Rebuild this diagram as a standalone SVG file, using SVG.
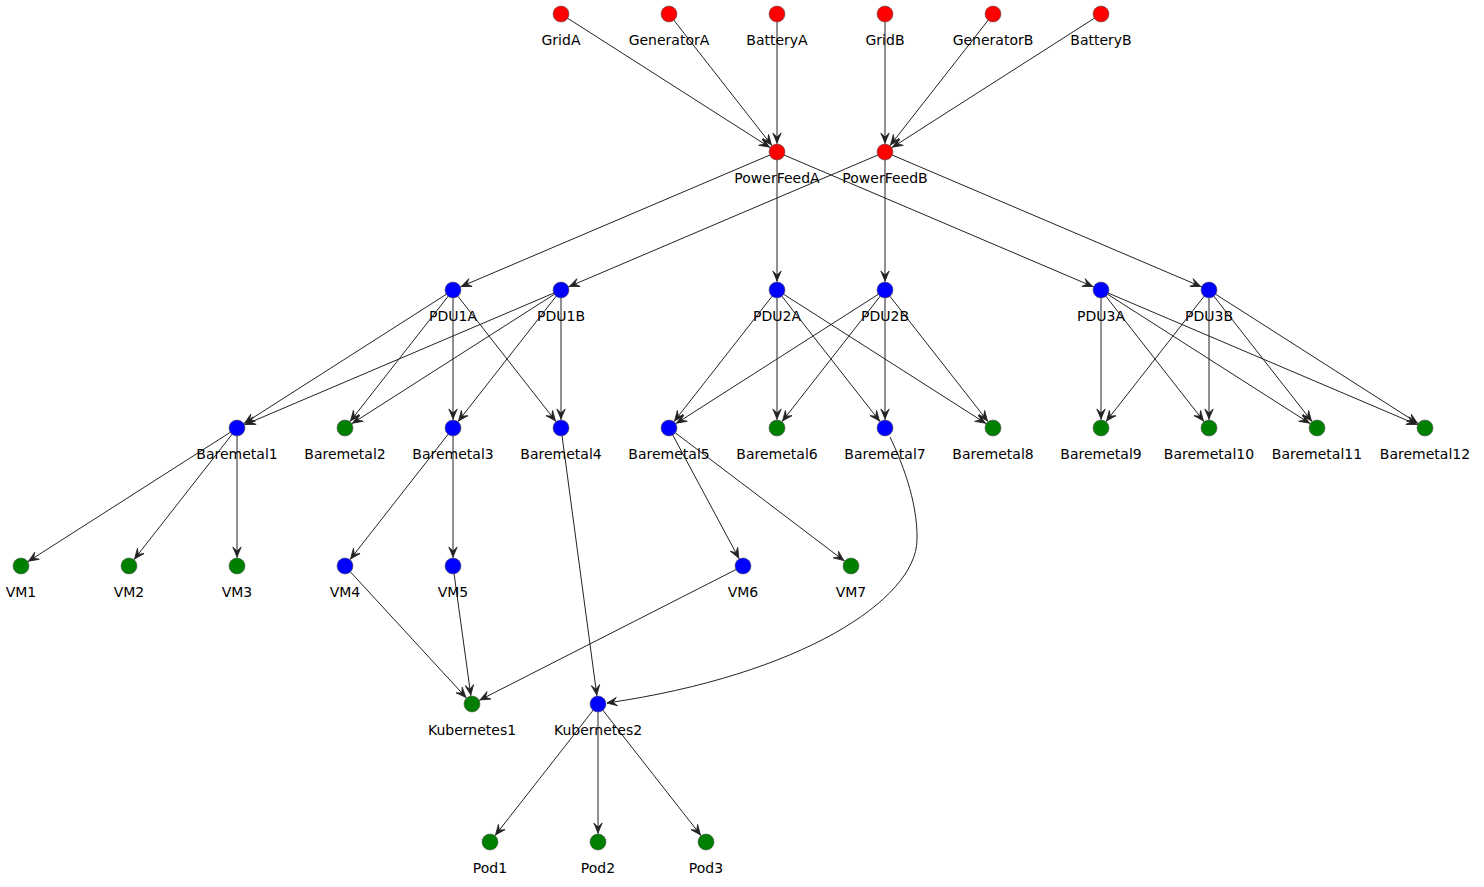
<svg xmlns="http://www.w3.org/2000/svg" width="1484" height="887" viewBox="0 0 1484 887">
<style>
.e{stroke:#222;stroke-width:1;fill:none;marker-end:url(#a)}
.c{stroke:#222;stroke-width:1;fill:none;marker-end:url(#b)}
.n circle{stroke:#555;stroke-width:0.6}
.r circle{fill:#ff0000}
.u circle{fill:#0000ff}
.g circle{fill:#008000}
text{font-family:"DejaVu Sans","Liberation Sans",sans-serif;font-size:14px;fill:#000;text-anchor:middle}
</style>
<defs>
<marker id="a" markerUnits="userSpaceOnUse" viewBox="0 0 12 10" markerWidth="12" markerHeight="10" refX="19" refY="5" orient="auto" overflow="visible">
<path d="M0,0.8 L10,5 L0,9.2 L4,5 Z" fill="#222" stroke="#222" stroke-width="0.8" stroke-linejoin="miter"/>
</marker>
<marker id="b" markerUnits="userSpaceOnUse" viewBox="0 0 12 10" markerWidth="12" markerHeight="10" refX="10" refY="5" orient="auto" overflow="visible">
<path d="M0,0.8 L10,5 L0,9.2 L4,5 Z" fill="#222" stroke="#222" stroke-width="0.8" stroke-linejoin="miter"/>
</marker>
</defs>
<rect width="1484" height="887" fill="#fff"/>
<g id="connectors">
<line class="e" x1="561" y1="14" x2="777" y2="152"/>
<line class="e" x1="669" y1="14" x2="777" y2="152"/>
<line class="e" x1="777" y1="14" x2="777" y2="152"/>
<line class="e" x1="885" y1="14" x2="885" y2="152"/>
<line class="e" x1="993" y1="14" x2="885" y2="152"/>
<line class="e" x1="1101" y1="14" x2="885" y2="152"/>
<line class="e" x1="777" y1="152" x2="453" y2="290"/>
<line class="e" x1="777" y1="152" x2="777" y2="290"/>
<line class="e" x1="777" y1="152" x2="1101" y2="290"/>
<line class="e" x1="885" y1="152" x2="561" y2="290"/>
<line class="e" x1="885" y1="152" x2="885" y2="290"/>
<line class="e" x1="885" y1="152" x2="1209" y2="290"/>
<line class="e" x1="453" y1="290" x2="237" y2="428"/>
<line class="e" x1="453" y1="290" x2="345" y2="428"/>
<line class="e" x1="453" y1="290" x2="453" y2="428"/>
<line class="e" x1="453" y1="290" x2="561" y2="428"/>
<line class="e" x1="561" y1="290" x2="237" y2="428"/>
<line class="e" x1="561" y1="290" x2="345" y2="428"/>
<line class="e" x1="561" y1="290" x2="453" y2="428"/>
<line class="e" x1="561" y1="290" x2="561" y2="428"/>
<line class="e" x1="777" y1="290" x2="669" y2="428"/>
<line class="e" x1="777" y1="290" x2="777" y2="428"/>
<line class="e" x1="777" y1="290" x2="885" y2="428"/>
<line class="e" x1="777" y1="290" x2="993" y2="428"/>
<line class="e" x1="885" y1="290" x2="669" y2="428"/>
<line class="e" x1="885" y1="290" x2="777" y2="428"/>
<line class="e" x1="885" y1="290" x2="885" y2="428"/>
<line class="e" x1="885" y1="290" x2="993" y2="428"/>
<line class="e" x1="1101" y1="290" x2="1101" y2="428"/>
<line class="e" x1="1101" y1="290" x2="1209" y2="428"/>
<line class="e" x1="1101" y1="290" x2="1317" y2="428"/>
<line class="e" x1="1101" y1="290" x2="1425" y2="428"/>
<line class="e" x1="1209" y1="290" x2="1101" y2="428"/>
<line class="e" x1="1209" y1="290" x2="1209" y2="428"/>
<line class="e" x1="1209" y1="290" x2="1317" y2="428"/>
<line class="e" x1="1209" y1="290" x2="1425" y2="428"/>
<line class="e" x1="237" y1="428" x2="21" y2="566"/>
<line class="e" x1="237" y1="428" x2="129" y2="566"/>
<line class="e" x1="237" y1="428" x2="237" y2="566"/>
<line class="e" x1="453" y1="428" x2="345" y2="566"/>
<line class="e" x1="453" y1="428" x2="453" y2="566"/>
<line class="e" x1="669" y1="428" x2="743" y2="566"/>
<line class="e" x1="669" y1="428" x2="851" y2="566"/>
<line class="e" x1="561" y1="428" x2="598" y2="704"/>
<path class="c" d="M890,437 C900,458 918,500 917,540 C916,600 800,675 607,703"/>
<line class="e" x1="345" y1="566" x2="472" y2="704"/>
<line class="e" x1="453" y1="566" x2="472" y2="704"/>
<line class="e" x1="743" y1="566" x2="472" y2="704"/>
<line class="e" x1="598" y1="704" x2="490" y2="842"/>
<line class="e" x1="598" y1="704" x2="598" y2="842"/>
<line class="e" x1="598" y1="704" x2="706" y2="842"/>
</g>
<g id="GridA" class="n r"><circle cx="561" cy="14" r="8"/><text x="561" y="45">GridA</text></g>
<g id="GeneratorA" class="n r"><circle cx="669" cy="14" r="8"/><text x="669" y="45">GeneratorA</text></g>
<g id="BatteryA" class="n r"><circle cx="777" cy="14" r="8"/><text x="777" y="45">BatteryA</text></g>
<g id="GridB" class="n r"><circle cx="885" cy="14" r="8"/><text x="885" y="45">GridB</text></g>
<g id="GeneratorB" class="n r"><circle cx="993" cy="14" r="8"/><text x="993" y="45">GeneratorB</text></g>
<g id="BatteryB" class="n r"><circle cx="1101" cy="14" r="8"/><text x="1101" y="45">BatteryB</text></g>
<g id="PowerFeedA" class="n r"><circle cx="777" cy="152" r="8"/><text x="777" y="183">PowerFeedA</text></g>
<g id="PowerFeedB" class="n r"><circle cx="885" cy="152" r="8"/><text x="885" y="183">PowerFeedB</text></g>
<g id="PDU1A" class="n u"><circle cx="453" cy="290" r="8"/><text x="453" y="321">PDU1A</text></g>
<g id="PDU1B" class="n u"><circle cx="561" cy="290" r="8"/><text x="561" y="321">PDU1B</text></g>
<g id="PDU2A" class="n u"><circle cx="777" cy="290" r="8"/><text x="777" y="321">PDU2A</text></g>
<g id="PDU2B" class="n u"><circle cx="885" cy="290" r="8"/><text x="885" y="321">PDU2B</text></g>
<g id="PDU3A" class="n u"><circle cx="1101" cy="290" r="8"/><text x="1101" y="321">PDU3A</text></g>
<g id="PDU3B" class="n u"><circle cx="1209" cy="290" r="8"/><text x="1209" y="321">PDU3B</text></g>
<g id="Baremetal1" class="n u"><circle cx="237" cy="428" r="8"/><text x="237" y="459">Baremetal1</text></g>
<g id="Baremetal2" class="n g"><circle cx="345" cy="428" r="8"/><text x="345" y="459">Baremetal2</text></g>
<g id="Baremetal3" class="n u"><circle cx="453" cy="428" r="8"/><text x="453" y="459">Baremetal3</text></g>
<g id="Baremetal4" class="n u"><circle cx="561" cy="428" r="8"/><text x="561" y="459">Baremetal4</text></g>
<g id="Baremetal5" class="n u"><circle cx="669" cy="428" r="8"/><text x="669" y="459">Baremetal5</text></g>
<g id="Baremetal6" class="n g"><circle cx="777" cy="428" r="8"/><text x="777" y="459">Baremetal6</text></g>
<g id="Baremetal7" class="n u"><circle cx="885" cy="428" r="8"/><text x="885" y="459">Baremetal7</text></g>
<g id="Baremetal8" class="n g"><circle cx="993" cy="428" r="8"/><text x="993" y="459">Baremetal8</text></g>
<g id="Baremetal9" class="n g"><circle cx="1101" cy="428" r="8"/><text x="1101" y="459">Baremetal9</text></g>
<g id="Baremetal10" class="n g"><circle cx="1209" cy="428" r="8"/><text x="1209" y="459">Baremetal10</text></g>
<g id="Baremetal11" class="n g"><circle cx="1317" cy="428" r="8"/><text x="1317" y="459">Baremetal11</text></g>
<g id="Baremetal12" class="n g"><circle cx="1425" cy="428" r="8"/><text x="1425" y="459">Baremetal12</text></g>
<g id="VM1" class="n g"><circle cx="21" cy="566" r="8"/><text x="21" y="597">VM1</text></g>
<g id="VM2" class="n g"><circle cx="129" cy="566" r="8"/><text x="129" y="597">VM2</text></g>
<g id="VM3" class="n g"><circle cx="237" cy="566" r="8"/><text x="237" y="597">VM3</text></g>
<g id="VM4" class="n u"><circle cx="345" cy="566" r="8"/><text x="345" y="597">VM4</text></g>
<g id="VM5" class="n u"><circle cx="453" cy="566" r="8"/><text x="453" y="597">VM5</text></g>
<g id="VM6" class="n u"><circle cx="743" cy="566" r="8"/><text x="743" y="597">VM6</text></g>
<g id="VM7" class="n g"><circle cx="851" cy="566" r="8"/><text x="851" y="597">VM7</text></g>
<g id="Kubernetes1" class="n g"><circle cx="472" cy="704" r="8"/><text x="472" y="735">Kubernetes1</text></g>
<g id="Kubernetes2" class="n u"><circle cx="598" cy="704" r="8"/><text x="598" y="735">Kubernetes2</text></g>
<g id="Pod1" class="n g"><circle cx="490" cy="842" r="8"/><text x="490" y="873">Pod1</text></g>
<g id="Pod2" class="n g"><circle cx="598" cy="842" r="8"/><text x="598" y="873">Pod2</text></g>
<g id="Pod3" class="n g"><circle cx="706" cy="842" r="8"/><text x="706" y="873">Pod3</text></g>
</svg>
